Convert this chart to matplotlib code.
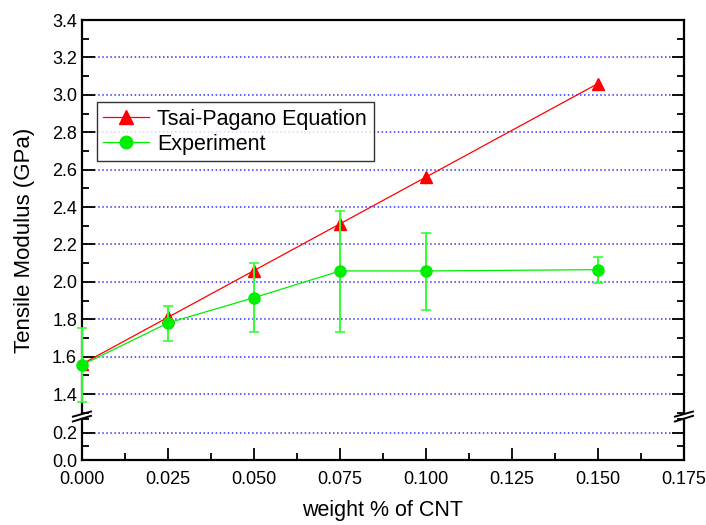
import matplotlib
matplotlib.use('Agg')
from matplotlib import pyplot as plt
from matplotlib.lines import Line2D
from matplotlib.ticker import MultipleLocator

plt.rcParams['font.family'] = ['Liberation Sans', 'DejaVu Sans']

# Данные
wt = [0.0, 0.025, 0.05, 0.075, 0.1, 0.15]
tsai = [1.56, 1.81, 2.06, 2.31, 2.56, 3.06]
exp_mean = [1.555, 1.78, 1.915, 2.058, 2.058, 2.065]
exp_low = [1.357, 1.683, 1.73, 1.732, 1.849, 1.995]
exp_high = [1.753, 1.87, 2.10, 2.379, 2.261, 2.135]

err_lo = [m - l for m, l in zip(exp_mean, exp_low)]
err_hi = [h - m for m, h in zip(exp_mean, exp_high)]

fig = plt.figure(figsize=(7.06, 5.25), dpi=100)
left, width = 0.1161, 0.8527
ax = fig.add_axes([left, 0.2139, width, 0.748])
ax2 = fig.add_axes([left, 0.1238, width, 0.0772])

grid_kw = dict(color='#3333ff', linestyle=':', linewidth=1.1)

# Нанесение данных (только верхняя часть оси)
ax.plot(wt, tsai, color='red', lw=0.9, marker='^', ms=9, zorder=3)
ax.errorbar(wt, exp_mean, yerr=[err_lo, err_hi], color='#00ee00',
            ecolor='#33ff33', elinewidth=1.4, capsize=3.5, capthick=1.2,
            lw=0.9, marker='o', ms=8, mfc='#00ee00', mec='#00ee00',
            zorder=4, clip_on=False)

for a in (ax, ax2):
    a.set_xlim(0, 0.175)
    a.xaxis.set_major_locator(MultipleLocator(0.025))
    a.xaxis.set_minor_locator(MultipleLocator(0.0125))
    a.yaxis.set_major_locator(MultipleLocator(0.2))
    a.yaxis.set_minor_locator(MultipleLocator(0.1))
    a.yaxis.grid(True, **grid_kw)
    a.set_axisbelow(True)
    a.tick_params(axis='both', which='both', direction='in', width=1.3,
                  labelsize=13, left=True, right=True)
    a.tick_params(which='major', length=9)
    a.tick_params(which='minor', length=5)
    for s in a.spines.values():
        s.set_linewidth(1.6)

ax.set_ylim(1.3, 3.4)
ax.spines['bottom'].set_visible(False)
ax.tick_params(axis='x', which='both', bottom=False, top=False, labelbottom=False)
ax.set_yticks([1.4, 1.6, 1.8, 2.0, 2.2, 2.4, 2.6, 2.8, 3.0, 3.2, 3.4])

ax2.set_ylim(0, 0.3)
ax2.set_yticks([0.0, 0.2])
ax2.spines['top'].set_visible(False)
ax2.tick_params(axis='x', which='both', top=False, pad=8)
ax2.set_xticks([0.0, 0.025, 0.05, 0.075, 0.1, 0.125, 0.15, 0.175])
ax2.set_xticklabels(['0.000', '0.025', '0.050', '0.075', '0.100',
                     '0.125', '0.150', '0.175'])

# Разрыв оси
dx = 0.015
for xc in (0, 1):
    ax.plot([xc - dx, xc + dx], [-0.010, 0.003], transform=ax.transAxes,
            color='k', lw=1.4, clip_on=False)
    ax2.plot([xc - dx, xc + dx], [0.95, 1.09], transform=ax2.transAxes,
             color='k', lw=1.4, clip_on=False)

handles = [
    Line2D([], [], color='red', lw=0.9, marker='^', ms=10),
    Line2D([], [], color='#00ee00', lw=0.9, marker='o', ms=9),
]
leg = ax.legend(handles, ['Tsai-Pagano Equation', 'Experiment'],
                loc='upper left', bbox_to_anchor=(0.025, 0.791), fontsize=15.5,
                frameon=True, fancybox=False, edgecolor='black',
                handlelength=2.1, borderpad=0.3, labelspacing=0.2,
                handletextpad=0.4, borderaxespad=0)
leg.get_frame().set_linewidth(1.0)

fig.text(0.542, 0.018, 'weight % of CNT', ha='center', fontsize=15.5)
fig.text(0.035, 0.543, 'Tensile Modulus (GPa)', rotation=90, va='center',
         ha='center', fontsize=16)

plt.savefig('out.png', dpi=100)
